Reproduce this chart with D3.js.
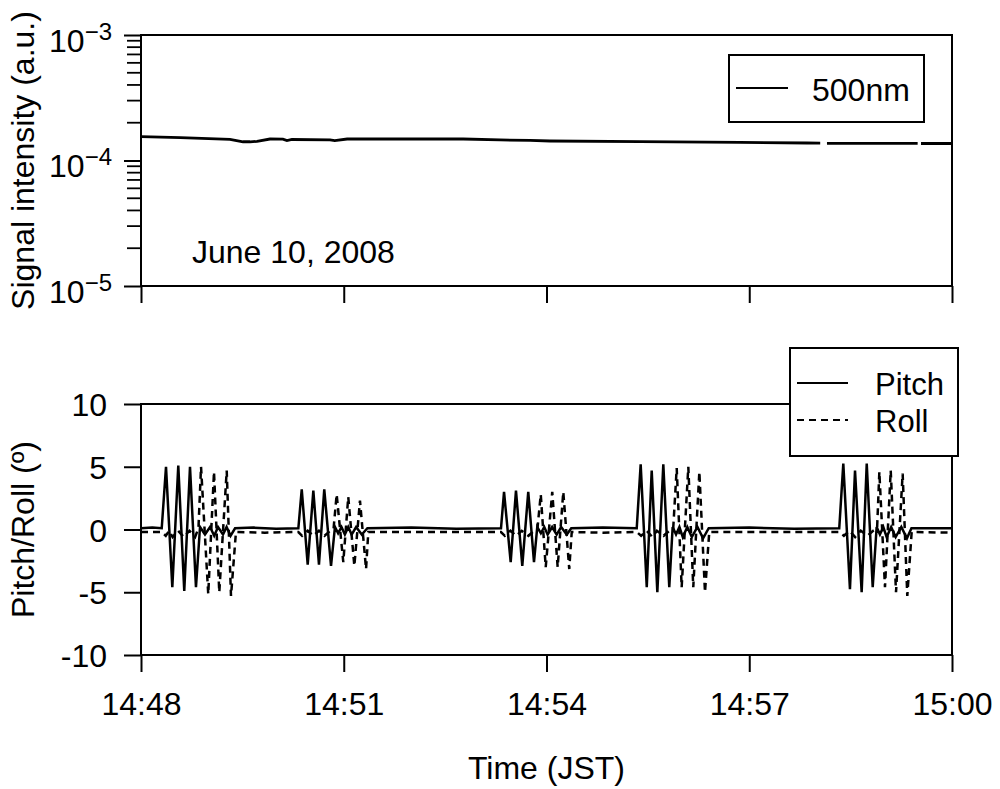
<!DOCTYPE html>
<html>
<head>
<meta charset="utf-8">
<script src="https://cdn.jsdelivr.net/npm/d3@7"></script>
<style>
  html, body { margin: 0; padding: 0; background: #fff; }
  svg { display: block; }
  text { font-family: "Liberation Sans", Arial, sans-serif; fill: #000; }
</style>
</head>
<body>
<svg id="chart" width="1000" height="789"></svg>
<script>
// ---------------- DATA ----------------
const dateLabel = "June 10, 2008";
const xTickLabels = ["14:48", "14:51", "14:54", "14:57", "15:00"];
const xTitle = "Time (JST)";
const topTitle = "Signal intensity (a.u.)";
const botTitle = "Pitch/Roll (º)";
const topTicks = [1e-5, 1e-4, 1e-3];
const topTickExp = ["−5", "−4", "−3"];
const botTicks = [-10, -5, 0, 5, 10];
const legendTop = ["500nm"];
const legendBot = ["Pitch", "Roll"];

// seconds after 14:48:00, signal intensity (null = gap)
const signal500 = [
  [0, 1.548e-4], [35, 1.52e-4], [79, 1.476e-4], [90.6, 1.41e-4], [96.8, 1.41e-4],
  [103, 1.42e-4], [114.5, 1.483e-4], [126, 1.48e-4], [129.6, 1.44e-4], [134, 1.47e-4],
  [167.8, 1.46e-4], [172, 1.442e-4], [183, 1.483e-4], [286, 1.483e-4], [318.7, 1.46e-4],
  [345.4, 1.444e-4], [363, 1.43e-4], [443, 1.412e-4], [531.8, 1.396e-4], [591.3, 1.379e-4],
  [603, 1.377e-4], [605, null], [609, 1.371e-4], [689.5, 1.371e-4], [691, null],
  [692.5, 1.366e-4], [720, 1.366e-4]
];

// seconds after 14:48:00, pitch (deg)
const pitch = [
  [0, 0.1], [10, 0.15], [18.4, 0.1],
  [22.2, 5.0], [27.8, -4.6], [33.1, 5.1], [38.4, -4.9], [43.5, 5.0], [48.8, -4.6],
  [52.4, 0.2], [56.8, -0.4], [61.3, 0.2], [65, -0.5], [68.4, 0.2], [72.8, -0.4], [76, 0.2], [79.5, -0.5], [83.5, 0.1],
  [100, 0.15], [120, 0.05], [139.7, 0.1],
  [142.7, 3.2], [148.0, -2.8], [153.0, 3.1], [158.0, -2.8], [162.7, 3.2], [168.7, -2.9],
  [172.2, 0.2], [175, -0.3], [178, 0.2], [181, -0.4], [184, 0.2], [187, -0.4], [191, 0.2], [196, -0.4], [201, 0.1],
  [240, 0.15], [280, 0.05], [319.6, 0.1],
  [322.3, 3.0], [328.2, -2.6], [332.9, 3.1], [338.5, -2.9], [343.8, 3.0], [348.9, -2.6],
  [351.8, 0.2], [355, -0.3], [358, 0.2], [361, -0.4], [365, 0.2], [369, -0.4], [373, 0.2], [378, -0.4], [382, 0.1],
  [410, 0.15], [440.1, 0.1],
  [443.6, 5.2], [449.0, -4.6], [453.4, 4.7], [458.4, -5.0], [463.7, 5.2], [469.0, -4.6],
  [472.0, 0.2], [475, -0.4], [478, 0.2], [481, -0.6], [485, 0.2], [489, -0.6], [494, 0.2], [499, -0.7], [504, 0.1],
  [540, 0.15], [580, 0.05], [619.9, 0.1],
  [623.5, 5.25], [629.4, -4.75], [633.9, 4.7], [639.8, -5.0], [644.3, 5.25], [649.6, -4.6],
  [653.1, 0.2], [656, -0.4], [659, 0.2], [662, -0.6], [666, 0.2], [670, -0.6], [675, 0.2], [680, -0.7], [684, 0.1],
  [720, 0.1]
];

// seconds after 14:48:00, roll (deg)
const roll = [
  [0, -0.2], [18.4, -0.2], [22, -0.5], [25, -0.1], [28, -0.6], [33, -0.1], [38, -0.6], [43, -0.1], [48, -0.6], [51, 0.1],
  [53.3, 5.0], [59.7, -5.15], [64.8, 4.6], [69.5, -5.0], [76.1, 4.7], [79.9, -5.3], [84.3, -0.2],
  [110, -0.25], [139.7, -0.2],
  [143, -0.5], [148, -0.1], [153, -0.5], [158, -0.1], [163, -0.5], [168, -0.1], [171, 0.1],
  [173.7, 2.8], [179.6, -2.6], [184.0, 2.6], [189.4, -2.9], [194.4, 2.3], [199.8, -3.15], [201.8, -0.2],
  [260, -0.2], [319.6, -0.2],
  [323, -0.5], [328, -0.1], [333, -0.5], [338, -0.1], [344, -0.5], [349, -0.1], [352, 0.1],
  [354.9, 2.8], [359.3, -3.0], [365.1, 3.0], [369.9, -3.0], [374.9, 3.0], [380.2, -3.15], [382.4, -0.2],
  [410, -0.25], [440.1, -0.2],
  [444, -0.5], [449, -0.1], [454, -0.6], [458, -0.1], [464, -0.5], [469, -0.1], [472.5, 0.1],
  [475.6, 4.9], [480.0, -4.6], [485.9, 5.0], [490.3, -4.6], [495.7, 4.6], [500.7, -5.0], [504.5, -0.2],
  [560, -0.2], [619.9, -0.2],
  [624, -0.5], [629, -0.1], [634, -0.6], [639, -0.1], [645, -0.5], [650, -0.1], [653.5, 0.1],
  [655.5, 4.6], [660.5, -4.6], [665.6, 4.7], [670.3, -5.0], [676.2, 4.45], [680.3, -5.3], [684.2, -0.2],
  [720, -0.25]
];

// ---------------- CHART ----------------
const svg = d3.select("#chart");
const parseHM = d3.timeParse("%Y-%m-%d %H:%M");
const t0 = parseHM("2008-06-10 " + xTickLabels[0]);
const t1 = parseHM("2008-06-10 " + xTickLabels[xTickLabels.length - 1]);
const toDate = s => new Date(t0.getTime() + s * 1000);

const L = 141, R = 952;
const x = d3.scaleTime().domain([t0, t1]).range([L, R]);
const yTop = d3.scaleLog().domain([1e-5, 1e-3]).range([286, 35]);
const yBot = d3.scaleLinear().domain([-10, 10]).range([655, 404]);

const FS = 32;

// ---------- top panel ----------
const gTop = svg.append("g");
const lineTop = d3.line()
  .defined(d => d[1] !== null)
  .x(d => x(toDate(d[0])))
  .y(d => yTop(d[1]));
gTop.append("path").datum(signal500)
  .attr("d", lineTop).attr("fill", "none").attr("stroke", "#000").attr("stroke-width", 2.8);

gTop.append("rect").attr("x", L).attr("y", yTop(1e-3)).attr("width", R - L).attr("height", yTop(1e-5) - yTop(1e-3))
  .attr("fill", "none").attr("stroke", "#000").attr("stroke-width", 2);

const yTopAxis = d3.axisLeft(yTop).tickValues(topTicks).tickSize(17).tickFormat("");
const gyTop = gTop.append("g").attr("transform", `translate(${L},0)`).call(yTopAxis);
gyTop.select(".domain").remove();
gyTop.selectAll("line").attr("stroke-width", 2);
const minor = [];
[1e-5, 1e-4].forEach(dec => { for (let k = 2; k <= 9; k++) minor.push(dec * k); });
gTop.append("g").selectAll("line").data(minor).join("line")
  .attr("x1", L - 14).attr("x2", L).attr("y1", d => yTop(d)).attr("y2", d => yTop(d))
  .attr("stroke", "#000").attr("stroke-width", 1.8);
topTicks.forEach((v, i) => {
  const t = gTop.append("text").attr("x", 112).attr("y", yTop(v) + 16.5).attr("text-anchor", "end");
  t.append("tspan").attr("font-size", FS).text("10");
  t.append("tspan").attr("font-size", 24).attr("dy", -12).text(topTickExp[i]);
});

const xTickDates = xTickLabels.map(s => parseHM("2008-06-10 " + s));
const xTopAxis = d3.axisBottom(x).tickValues(xTickDates).tickSize(17).tickFormat("");
const gxTop = gTop.append("g").attr("transform", `translate(0,${yTop(1e-5)})`).call(xTopAxis);
gxTop.select(".domain").remove();
gxTop.selectAll("line").attr("stroke-width", 2);

gTop.append("text").attr("x", 192).attr("y", 263).attr("font-size", FS).text(dateLabel);

const lgT = gTop.append("g");
lgT.append("rect").attr("x", 729).attr("y", 55).attr("width", 195).attr("height", 67)
  .attr("fill", "#fff").attr("stroke", "#000").attr("stroke-width", 2);
lgT.append("line").attr("x1", 736).attr("x2", 788).attr("y1", 88).attr("y2", 88)
  .attr("stroke", "#000").attr("stroke-width", 2.2);
lgT.append("text").attr("x", 812).attr("y", 101).attr("font-size", FS).text(legendTop[0]);

svg.append("text").attr("transform", `translate(34,${(yTop(1e-3) + yTop(1e-5)) / 2}) rotate(-90)`)
  .attr("text-anchor", "middle").attr("font-size", FS).text(topTitle);

// ---------- bottom panel ----------
const gBot = svg.append("g");
const lineBot = d3.line().x(d => x(toDate(d[0]))).y(d => yBot(d[1]));
gBot.append("path").datum(roll).attr("d", lineBot).attr("fill", "none")
  .attr("stroke", "#000").attr("stroke-width", 2.5).attr("stroke-dasharray", "7,5");
gBot.append("path").datum(pitch).attr("d", lineBot).attr("fill", "none")
  .attr("stroke", "#000").attr("stroke-width", 2.5).attr("stroke-linejoin", "miter");

gBot.append("rect").attr("x", L).attr("y", yBot(10)).attr("width", R - L).attr("height", yBot(-10) - yBot(10))
  .attr("fill", "none").attr("stroke", "#000").attr("stroke-width", 2);

const yBotAxis = d3.axisLeft(yBot).tickValues(botTicks).tickSize(17).tickPadding(17).tickFormat(d3.format("d"));
const gyBot = gBot.append("g").attr("transform", `translate(${L},0)`).call(yBotAxis);
gyBot.select(".domain").remove();
gyBot.selectAll("line").attr("stroke-width", 2);
gyBot.selectAll("text").attr("font-size", FS).attr("font-family", null).attr("dy", "0.36em")
  .text(d => d < 0 ? "-" + Math.abs(d) : d);

const xBotAxis = d3.axisBottom(x).tickValues(xTickDates).tickSize(17)
  .tickFormat((d, i) => xTickLabels[i]);
const gxBot = gBot.append("g").attr("transform", `translate(0,${yBot(-10)})`).call(xBotAxis);
gxBot.select(".domain").remove();
gxBot.selectAll("line").attr("stroke-width", 2);
gxBot.selectAll("text").attr("font-size", FS).attr("font-family", null).attr("dy", null).attr("y", 60);

const lgB = gBot.append("g");
lgB.append("rect").attr("x", 790).attr("y", 348).attr("width", 168).attr("height", 108)
  .attr("fill", "#fff").attr("stroke", "#000").attr("stroke-width", 2);
lgB.append("line").attr("x1", 797).attr("x2", 848).attr("y1", 383).attr("y2", 383)
  .attr("stroke", "#000").attr("stroke-width", 2.2);
lgB.append("line").attr("x1", 797).attr("x2", 848).attr("y1", 420).attr("y2", 420)
  .attr("stroke", "#000").attr("stroke-width", 2.2).attr("stroke-dasharray", "7,5");
lgB.append("text").attr("x", 875).attr("y", 395).attr("font-size", 31).text(legendBot[0]);
lgB.append("text").attr("x", 875).attr("y", 432).attr("font-size", 31).text(legendBot[1]);

svg.append("text").attr("transform", `translate(34,${(yBot(10) + yBot(-10)) / 2}) rotate(-90)`)
  .attr("text-anchor", "middle").attr("font-size", FS).text(botTitle);

svg.append("text").attr("x", (L + R) / 2).attr("y", 779).attr("text-anchor", "middle")
  .attr("font-size", FS).text(xTitle);
</script>
</body>
</html>
